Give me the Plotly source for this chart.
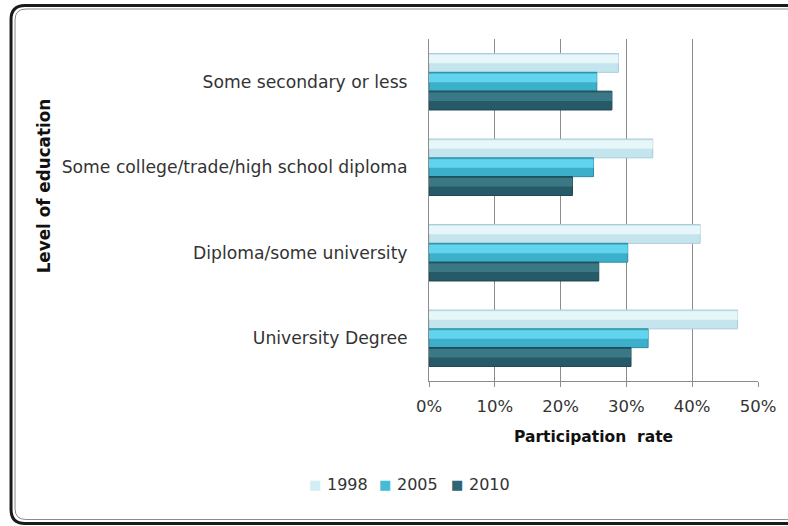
import plotly.graph_objects as go

categories = ["Some secondary or less", "Some college/trade/high school diploma",
              "Diploma/some university", "University Degree"]
years = ["1998", "2005", "2010"]
v1998 = [28.8, 34.0, 41.2, 46.9]
v2005 = [25.5, 25.0, 30.2, 33.3]
v2010 = [27.8, 21.8, 25.8, 30.7]
tick_vals = [0, 10, 20, 30, 40, 50]
tick_text = ["0%", "10%", "20%", "30%", "40%", "50%"]

series = {"1998": v1998, "2005": v2005, "2010": v2010}
base_col = {"1998": "#c4e5ed", "2005": "#3cb0cb", "2010": "#265a68"}
hi_col = {"1998": "#e6f6f9", "2005": "#63d4ee", "2010": "#3b7886"}
edge_col = {"1998": "#a9cdd6", "2005": "#2d8aa2", "2010": "#1c4550"}
legend_col = {"1998": "#d2eef4", "2005": "#45bcd6", "2010": "#2c6676"}

W, H = 788, 526
L, R, T, B = 429, 760, 39, 381
FONT = "DejaVu Sans, Verdana, sans-serif"
TXT = "#333333"

group = 0.66
bw = group / 3
offsets = {"1998": group / 2 - bw, "2005": -bw / 2, "2010": -group / 2}

fig = go.Figure()
for yr in years:
    fig.add_trace(go.Bar(
        y=categories, x=series[yr], name=yr, orientation="h",
        width=bw, offset=offsets[yr],
        marker=dict(color=base_col[yr], line=dict(color=edge_col[yr], width=1)),
        showlegend=False,
    ))
    fig.add_trace(go.Bar(
        y=categories, x=series[yr], orientation="h",
        width=bw * 0.45, offset=offsets[yr] + bw * 0.48,
        marker=dict(color=hi_col[yr], line=dict(width=0)),
        showlegend=False, hoverinfo="skip",
    ))


def px(x):
    return (x - L) / (R - L)


def py(y):
    return (B - y) / (B - T)


def rounded(x0, y0, x1, y1, r):
    rx = r / (R - L)
    ry = r / (B - T)
    X0, X1 = px(x0), px(x1)
    Y0, Y1 = py(y0), py(y1)
    return (f"M {X0+rx},{Y0} L {X1-rx},{Y0} Q {X1},{Y0} {X1},{Y0-ry} "
            f"L {X1},{Y1+ry} Q {X1},{Y1} {X1-rx},{Y1} L {X0+rx},{Y1} "
            f"Q {X0},{Y1} {X0},{Y1+ry} L {X0},{Y0-ry} Q {X0},{Y0} {X0+rx},{Y0} Z")


shapes = [
    dict(type="path", xref="paper", yref="paper", path=rounded(8.5, 5.5, 805, 523.5, 14),
         line=dict(color="#1a1a1a", width=3), layer="below"),
    dict(type="path", xref="paper", yref="paper", path=rounded(12.5, 9, 800, 519.5, 11),
         line=dict(color="#8a8a8a", width=1), layer="below"),
]

fig.update_layout(
    width=W, height=H,
    margin=dict(l=L, r=W - R, t=T, b=H - B, pad=0),
    paper_bgcolor="white", plot_bgcolor="white",
    barmode="overlay",
    font=dict(family=FONT, size=17, color=TXT),
    shapes=shapes,
    showlegend=False,
    xaxis=dict(range=[0, 50], tickvals=tick_vals, ticktext=tick_text,
               showgrid=True, gridcolor="#8c8c8c", gridwidth=1,
               showline=True, linecolor="#8c8c8c", linewidth=1,
               ticks="outside", ticklen=5, tickcolor="#8c8c8c",
               tickfont=dict(family=FONT, size=16.5, color=TXT),
               ticklabelstandoff=5,
               zeroline=False),
    yaxis=dict(categoryorder="array", categoryarray=list(reversed(categories)),
               range=[-0.5, 3.5],
               showline=True, linecolor="#8c8c8c", linewidth=1, ticks="",
               tickfont=dict(family=FONT, size=17.2, color=TXT), ticklabelstandoff=17,
               showgrid=False),
)

# axis titles
fig.add_annotation(text="<b>Level of education</b>", textangle=-90, xref="paper", yref="paper",
                   x=px(42), y=py(186), showarrow=False,
                   font=dict(family=FONT, size=16.8, color="#111111"),
                   xanchor="center", yanchor="middle")
fig.add_annotation(text="<b>Participation\u00a0 rate</b>", xref="paper", yref="paper",
                   x=px(594), y=py(437), showarrow=False,
                   font=dict(family=FONT, size=15.5, color="#111111"),
                   xanchor="center", yanchor="middle")

# legend (text glyphs)
leg_sq_x = {"1998": 314, "2005": 385, "2010": 457}
for yr in years:
    fig.add_annotation(text="\u25a0", xref="paper", yref="paper",
                       x=px(leg_sq_x[yr]), y=py(484.5), showarrow=False,
                       font=dict(family=FONT, size=13, color=legend_col[yr]),
                       xanchor="center", yanchor="middle")
    fig.add_annotation(text=yr, xref="paper", yref="paper",
                       x=px(leg_sq_x[yr] + 10), y=py(484.5), showarrow=False,
                       font=dict(family=FONT, size=16, color=TXT),
                       xanchor="left", yanchor="middle")

fig.write_html("out.html", config={"displayModeBar": False},
               post_script="document.body.style.margin='0';")
